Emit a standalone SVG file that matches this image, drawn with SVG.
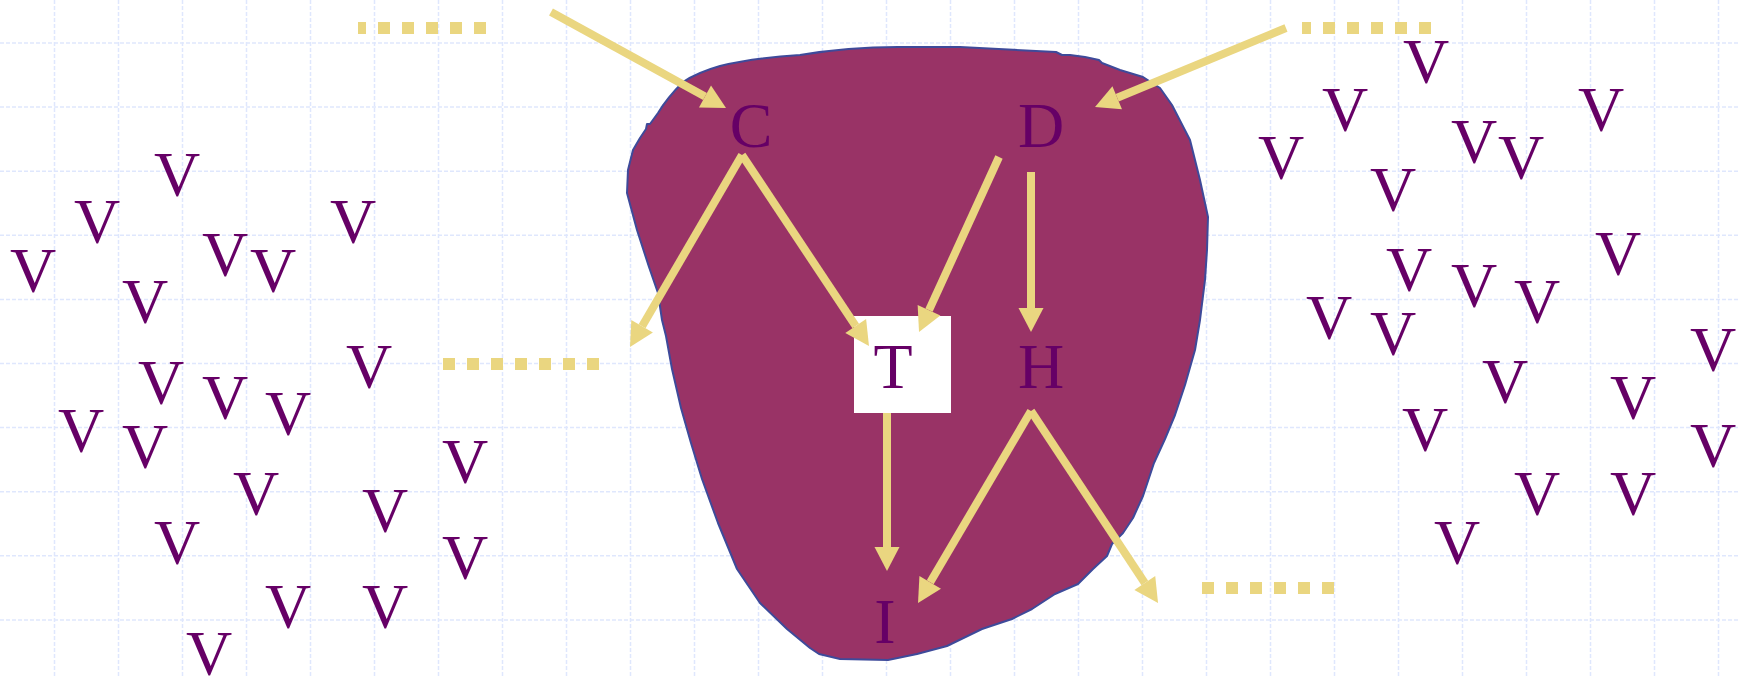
<svg xmlns="http://www.w3.org/2000/svg" width="1740" height="676" viewBox="0 0 1740 676">
<defs>
<style>
.grid{fill:none;stroke:#dfe7fd;stroke-width:1.5;stroke-dasharray:4 2}
.blob{fill:#993366;stroke:#3e4a9a;stroke-width:2;stroke-linejoin:round}
.arr{fill:none;stroke:#ead680;stroke-width:8;marker-end:url(#ah)}
.dots{fill:none;stroke:#ead680;stroke-width:12;stroke-dasharray:12 12}
.lt{font-family:"Liberation Serif","Times New Roman",serif;font-size:64px;fill:#660066;text-anchor:middle}
</style>
<marker id="ah" markerUnits="userSpaceOnUse" markerWidth="24" markerHeight="25" refX="0" refY="12.5" orient="auto" viewBox="0 0 24 25" overflow="visible">
<path d="M0,0 L24,12.5 L0,25 z" fill="#ead680"/>
</marker>
</defs>
<rect width="1740" height="676" fill="#ffffff"/>
<g id="grid">
<path class="grid" d="M54.5 0V676M118.5 0V676M182.5 0V676M246.5 0V676M310.5 0V676M374.5 0V676M438.5 0V676M502.5 0V676M566.5 0V676M630.5 0V676M694.5 0V676M758.5 0V676M822.5 0V676M886.5 0V676M950.5 0V676M1014.5 0V676M1078.5 0V676M1142.5 0V676M1206.5 0V676M1270.5 0V676M1334.5 0V676M1398.5 0V676M1462.5 0V676M1526.5 0V676M1590.5 0V676M1654.5 0V676M1718.5 0V676"/>
<path class="grid" d="M0 43H1740M0 107.1H1740M0 171.2H1740M0 235.3H1740M0 299.4H1740M0 363.5H1740M0 427.6H1740M0 491.7H1740M0 555.8H1740M0 619.9H1740"/>
</g>
<g id="region">
<path class="blob" d="M800,55 C830,50 860,47 898,47 L960,47 L1056,52 L1062,55 L1070,55 L1085,57 L1099,60 L1102,63 L1120,70 L1143,77 L1160,88 L1172,105 L1190,140 L1200,180 L1208,217 L1207,250 L1205,280 L1200,320 L1195,350 L1185,385 L1175,415 L1165,439 L1154,463 L1143,496 L1133,518 L1123,533 L1112,544 L1107,556 L1093,569 L1078,584 L1055,594 L1032,609 L1012,619 L982,629 L947,646 L917,654 L888,660 L840,659 L819,654 L810,648 L787,629 L760,603 L737,569 L718,523 L702,479 L691,443 L681,408 L672,369 L666,336 L662,320 L658,293 L649,267 L637,230 L627,193 L628,170 L633,150 L640,138 L646,129 L647,124 L650,124 L658,113 C664,103 672,93 683,82 C695,74 706,70 720,66 C745,60 770,57 800,55 Z"/>
</g>
<g id="node-T"><rect x="854" y="316" width="97" height="97" fill="#ffffff"/></g>
<g id="connectors">
<line class="arr" x1="551" y1="12" x2="705" y2="96.5"/>
<line class="arr" x1="1286" y1="28" x2="1117.2" y2="97.8"/>
<line class="arr" x1="742" y1="155" x2="642.1" y2="326.3"/>
<line class="arr" x1="742" y1="155" x2="855.7" y2="326"/>
<line class="arr" x1="999" y1="157" x2="929" y2="310.2"/>
<line class="arr" x1="1031" y1="172" x2="1031" y2="308"/>
<line class="arr" x1="887" y1="413" x2="887" y2="547"/>
<line class="arr" x1="1031" y1="411" x2="930.2" y2="582.3"/>
<line class="arr" x1="1031" y1="411" x2="1144.8" y2="583"/>
<line class="dots" x1="358" y1="28" x2="486" y2="28" stroke-dashoffset="4"/>
<line class="dots" x1="1302" y1="28" x2="1431" y2="28" stroke-dashoffset="3"/>
<line class="dots" x1="443" y1="364" x2="599" y2="364"/>
<line class="dots" x1="1202" y1="588" x2="1335" y2="588"/>
</g>
<g id="labels">
<text class="lt" x="751" y="147">C</text>
<text class="lt" x="1041" y="147">D</text>
<text class="lt" x="893" y="388">T</text>
<text class="lt" x="1041" y="388">H</text>
<text class="lt" x="885" y="643">I</text>
</g>
<g id="vertices-left">
<text class="lt" x="177" y="196">V</text>
<text class="lt" x="97" y="243">V</text>
<text class="lt" x="33" y="292">V</text>
<text class="lt" x="145" y="323">V</text>
<text class="lt" x="225" y="276">V</text>
<text class="lt" x="273" y="292">V</text>
<text class="lt" x="353" y="243">V</text>
<text class="lt" x="369" y="388">V</text>
<text class="lt" x="161" y="404">V</text>
<text class="lt" x="225" y="419">V</text>
<text class="lt" x="288" y="435">V</text>
<text class="lt" x="81" y="452">V</text>
<text class="lt" x="145" y="468">V</text>
<text class="lt" x="465" y="483">V</text>
<text class="lt" x="256" y="515">V</text>
<text class="lt" x="385" y="532">V</text>
<text class="lt" x="177" y="564">V</text>
<text class="lt" x="465" y="579">V</text>
<text class="lt" x="288" y="628">V</text>
<text class="lt" x="385" y="628">V</text>
<text class="lt" x="209" y="675">V</text>
</g>
<g id="vertices-right">
<text class="lt" x="1426" y="83">V</text>
<text class="lt" x="1345" y="131">V</text>
<text class="lt" x="1281" y="179">V</text>
<text class="lt" x="1474" y="163">V</text>
<text class="lt" x="1521" y="179">V</text>
<text class="lt" x="1601" y="131">V</text>
<text class="lt" x="1393" y="211">V</text>
<text class="lt" x="1618" y="275">V</text>
<text class="lt" x="1409" y="291">V</text>
<text class="lt" x="1474" y="307">V</text>
<text class="lt" x="1537" y="323">V</text>
<text class="lt" x="1329" y="339">V</text>
<text class="lt" x="1393" y="355">V</text>
<text class="lt" x="1713" y="371">V</text>
<text class="lt" x="1505" y="403">V</text>
<text class="lt" x="1633" y="419">V</text>
<text class="lt" x="1425" y="451">V</text>
<text class="lt" x="1713" y="467">V</text>
<text class="lt" x="1537" y="515">V</text>
<text class="lt" x="1633" y="515">V</text>
<text class="lt" x="1457" y="564">V</text>
</g>
</svg>
